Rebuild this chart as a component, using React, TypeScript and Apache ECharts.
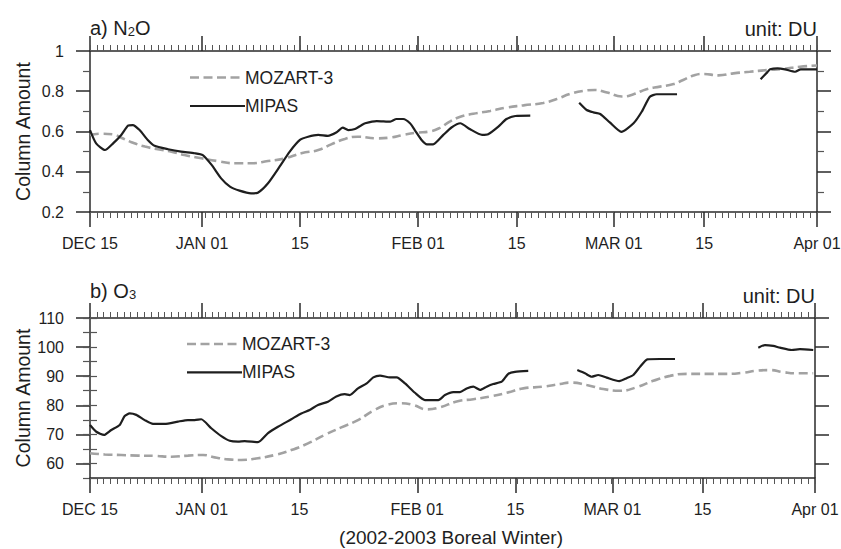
import React, { useEffect, useRef } from 'react';
import * as echarts from 'echarts';

// x axis: days since DEC 15 (positions of the labelled ticks)
const MAJOR_DAYS = [0, 16.5, 30.9, 48.3, 62.8, 77.1, 90.4, 107];
const MAJOR_LABELS = ['DEC 15', 'JAN 01', '15', 'FEB 01', '15', 'MAR 01', '15', 'Apr 01'];
const O3_MAJOR_TICKS = [60, 70, 80, 90, 100, 110];

// a) N2O
const N2O_MOZART: number[][] = [
  [0, 0.583], [1.7, 0.589], [3.4, 0.586], [4.6, 0.569], [6.1, 0.547], [8.1, 0.525], [10.0, 0.512],
  [12.0, 0.5], [13.9, 0.483], [16.4, 0.467], [18.8, 0.453], [21.3, 0.442], [23.7, 0.442], [26.2, 0.453],
  [28.7, 0.467], [31.1, 0.492], [33.6, 0.508], [35.5, 0.536], [37.5, 0.563], [39.4, 0.574], [42.2, 0.566],
  [44.2, 0.57], [46.1, 0.583], [48.1, 0.594], [50.0, 0.6], [51.5, 0.618], [53.0, 0.65], [54.5, 0.673],
  [56.4, 0.688], [58.9, 0.702], [61.3, 0.719], [63.8, 0.73], [66.7, 0.742], [68.7, 0.762], [70.7, 0.787],
  [72.6, 0.802], [74.3, 0.806], [76.1, 0.794], [78.3, 0.774], [80.0, 0.785], [81.9, 0.81], [83.9, 0.823],
  [85.9, 0.836], [87.3, 0.856], [88.8, 0.878], [90.3, 0.886], [92.5, 0.879], [94.7, 0.889], [97.1, 0.897],
  [99.6, 0.905], [102.0, 0.911], [104.5, 0.922], [107, 0.928],
];
const N2O_MIPAS_1: number[][] = [
  [0, 0.607], [0.9, 0.541], [2.2, 0.508], [3.4, 0.541], [4.6, 0.583], [5.6, 0.629], [6.3, 0.632],
  [7.3, 0.607], [8.5, 0.558], [9.5, 0.529], [11.5, 0.512], [13.4, 0.5], [15.4, 0.492], [16.6, 0.483],
  [17.9, 0.434], [19.3, 0.367], [20.6, 0.326], [22.0, 0.306], [23.7, 0.293], [24.7, 0.296], [26.2, 0.343],
  [27.9, 0.425], [29.4, 0.5], [30.9, 0.558], [32.1, 0.574], [33.6, 0.583], [35.0, 0.578], [36.3, 0.596],
  [37.2, 0.619], [38.0, 0.607], [39.0, 0.612], [39.9, 0.63], [40.5, 0.641], [42.2, 0.652], [44.2, 0.649],
  [45.1, 0.662], [46.1, 0.662], [47.1, 0.641], [47.8, 0.607], [48.8, 0.558], [49.6, 0.536], [50.5, 0.536],
  [52.0, 0.583], [53.2, 0.62], [54.5, 0.641], [55.9, 0.612], [57.7, 0.583], [58.6, 0.586], [60.1, 0.624],
  [61.3, 0.662], [62.6, 0.677], [64.8, 0.679],
];
const N2O_MIPAS_2: number[][] = [
  [72.0, 0.743], [73.1, 0.707], [74.1, 0.695], [75.1, 0.687], [76.5, 0.645], [78.2, 0.598], [80.0, 0.641],
  [81.2, 0.698], [82.4, 0.773], [83.4, 0.785], [86.4, 0.785],
];
const N2O_MIPAS_3: number[][] = [
  [98.7, 0.86], [99.7, 0.895], [100.1, 0.909], [101.2, 0.914], [102.3, 0.909], [103.8, 0.897],
  [104.6, 0.909], [107, 0.909],
];

// b) O3
const O3_MOZART: number[][] = [
  [0, 63.5], [2.17, 63.1], [4.62, 62.9], [7.08, 62.7], [9.55, 62.6], [12.0, 62.3], [14.46, 62.7],
  [16.68, 62.9], [18.4, 62.1], [20.37, 61.4], [22.33, 61.2], [24.79, 61.8], [27.26, 62.9], [29.71, 64.6],
  [32.17, 66.9], [34.64, 69.8], [37.09, 72.4], [39.55, 74.9], [41.81, 78.1], [43.79, 80.1], [45.75, 80.7],
  [47.71, 80.1], [49.69, 78.6], [51.65, 79.3], [54.12, 81.3], [56.57, 82.1], [59.03, 83.0], [61.5, 84.3],
  [63.95, 85.8], [66.9, 86.4], [69.38, 87.3], [70.85, 87.8], [73.3, 87.0], [75.75, 85.6], [78.22, 85.0],
  [80.68, 86.2], [83.13, 88.4], [85.6, 90.1], [88.06, 90.8], [91.01, 90.8], [93.96, 90.8], [96.41, 91.2],
  [98.39, 91.9], [100.35, 92.1], [102.32, 91.4], [104.29, 91.0], [106.74, 91.0],
];
const O3_MIPAS_1: number[][] = [
  [0, 73.2], [0.93, 70.9], [2.07, 69.8], [3.14, 71.5], [4.38, 73.2], [5.12, 76.3], [5.86, 77.2],
  [6.83, 76.7], [8.07, 74.9], [9.3, 73.6], [11.02, 73.6], [12.99, 74.4], [14.46, 74.9], [15.45, 74.9],
  [16.42, 75.2], [17.9, 72.1], [19.38, 69.4], [20.62, 67.8], [21.84, 67.5], [22.83, 67.7], [24.79, 67.3],
  [26.27, 70.4], [27.74, 72.6], [29.71, 75.2], [31.18, 77.2], [32.42, 78.4], [33.65, 80.1], [35.12, 81.2],
  [36.35, 83.0], [37.59, 83.8], [38.33, 83.5], [39.55, 85.8], [40.84, 87.5], [41.81, 89.6], [42.8, 90.2],
  [44.27, 89.6], [45.26, 89.6], [46.49, 87.5], [47.96, 84.3], [49.44, 81.8], [51.4, 81.8], [52.39, 83.5],
  [53.62, 84.5], [54.6, 84.5], [55.59, 85.8], [56.57, 86.4], [57.56, 85.3], [58.54, 86.4], [59.52, 87.3],
  [60.76, 88.1], [61.73, 90.8], [62.72, 91.5], [64.68, 91.8],
];
const O3_MIPAS_2: number[][] = [
  [71.92, 92.1], [73.05, 91.0], [74.04, 89.8], [75.01, 90.4], [76.25, 89.5], [78.11, 88.3], [79.2, 89.3],
  [80.18, 90.4], [81.17, 93.2], [82.25, 95.8], [84.12, 95.9], [86.34, 95.9],
];
const O3_MIPAS_3: number[][] = [
  [98.63, 99.8], [99.62, 100.7], [100.84, 100.4], [101.83, 99.8], [103.56, 99.0], [104.78, 99.3],
  [106.74, 99.0],
];

const FONT = '"Liberation Sans", Arial, Helvetica, sans-serif';
const INK = '#1e1e1e';
const AXIS = '#2a2a2a';
const GREY = '#a2a2a2';

const xLabel = (v: number) => {
  const i = MAJOR_DAYS.findIndex((d) => Math.abs(d - v) < 0.01);
  return i >= 0 ? MAJOR_LABELS[i] : '';
};

function xAxes(grid: number) {
  const common = { gridIndex: grid, type: 'value', min: 0, max: 107, splitLine: { show: false } };
  const line = { show: true, onZero: false, lineStyle: { color: AXIS, width: 1.5 } };
  return [
    {
      ...common, position: 'bottom', axisLine: line,
      axisTick: { show: true, customValues: MAJOR_DAYS, length: 15, lineStyle: { color: AXIS, width: 1.5 } },
      axisLabel: { show: true, customValues: MAJOR_DAYS, formatter: xLabel, margin: 23, fontSize: 16, color: INK, fontFamily: FONT },
    },
    {
      ...common, position: 'bottom', interval: 1, axisLine: { show: false },
      axisTick: { show: true, length: 6, lineStyle: { color: '#555', width: 1 } }, axisLabel: { show: false },
    },
    {
      ...common, position: 'top', axisLine: line,
      axisTick: { show: true, customValues: MAJOR_DAYS, length: 15, lineStyle: { color: AXIS, width: 1.5 } },
      axisLabel: { show: false },
    },
    {
      ...common, position: 'top', interval: 1, axisLine: { show: false },
      axisTick: { show: true, length: 6, lineStyle: { color: '#555', width: 1 } }, axisLabel: { show: false },
    },
  ];
}

const yLabelStyle = { margin: 26, fontSize: 16, color: INK, fontFamily: FONT };

function series(data: number[][], xi: number, yi: number, model: boolean) {
  return {
    type: 'line', xAxisIndex: xi, yAxisIndex: yi, data, symbol: 'none', silent: true,
    smooth: model ? 0.5 : 0.2, z: model ? 2 : 3,
    lineStyle: model ? { color: GREY, width: 2.6, type: [9, 4.5] } : { color: INK, width: 2.2 },
  };
}

function legend(x: number, y1: number, y2: number) {
  return [
    { type: 'line', shape: { x1: x, y1, x2: x + 53, y2: y1 }, style: { stroke: GREY, lineWidth: 2.6, lineDash: [9, 4.5] } },
    { type: 'text', x: x + 55, y: y1, style: { text: 'MOZART-3', fontSize: 17.5, fontFamily: FONT, fill: INK, verticalAlign: 'middle' } },
    { type: 'line', shape: { x1: x, y1: y2, x2: x + 55, y2 }, style: { stroke: INK, lineWidth: 2.2 } },
    { type: 'text', x: x + 55, y: y2, style: { text: 'MIPAS', fontSize: 17.5, fontFamily: FONT, fill: INK, verticalAlign: 'middle' } },
  ];
}

const subRich = {
  m: { fontSize: 20, fontFamily: FONT, fill: INK },
  s: { fontSize: 13, fontFamily: FONT, fill: INK, lineHeight: 10, verticalAlign: 'bottom' },
};

export default function App() {
  const ref = useRef<HTMLDivElement>(null);
  useEffect(() => {
    if (!ref.current) return;
    const chart = echarts.init(ref.current, undefined, { renderer: 'svg' });
    const tickLine = { color: AXIS, width: 1.5 };
    const axisLine = { show: true, onZero: false, lineStyle: { color: AXIS, width: 1.5 } };
    const option: any = {
      animation: false,
      backgroundColor: '#ffffff',
      grid: [
        { left: 90, top: 51, width: 727, height: 161, outerBoundsMode: 'none' },
        { left: 90, top: 318, width: 725, height: 160, outerBoundsMode: 'none' },
      ],
      xAxis: [...xAxes(0), ...xAxes(1)],
      yAxis: [
        {
          gridIndex: 0, type: 'value', min: 0.2, max: 1, interval: 0.2, position: 'left', axisLine,
          axisTick: { show: true, length: 14, lineStyle: tickLine },
          minorTick: { show: true, splitNumber: 2, length: 7, lineStyle: { color: '#555', width: 1.2 } },
          axisLabel: { ...yLabelStyle, formatter: (v: number) => String(Math.round(v * 10) / 10) },
          splitLine: { show: false }, minorSplitLine: { show: false },
        },
        {
          gridIndex: 0, type: 'value', min: 0.2, max: 1, interval: 0.2, position: 'right', axisLine,
          axisTick: { show: true, length: 14, lineStyle: tickLine },
          minorTick: { show: true, splitNumber: 2, length: 7, lineStyle: { color: '#555', width: 1.2 } },
          axisLabel: { show: false }, splitLine: { show: false }, minorSplitLine: { show: false },
        },
        {
          gridIndex: 1, type: 'value', min: 55, max: 110, position: 'left', axisLine,
          axisTick: { show: true, customValues: O3_MAJOR_TICKS, length: 14, lineStyle: tickLine },
          axisLabel: { ...yLabelStyle, customValues: O3_MAJOR_TICKS },
          splitLine: { show: false },
        },
        {
          gridIndex: 1, type: 'value', min: 55, max: 110, interval: 5, position: 'left', axisLine: { show: false },
          axisTick: { show: true, length: 7, lineStyle: { color: '#555', width: 1.2 } },
          axisLabel: { show: false }, splitLine: { show: false },
        },
        {
          gridIndex: 1, type: 'value', min: 55, max: 110, position: 'right', axisLine,
          axisTick: { show: true, customValues: O3_MAJOR_TICKS, length: 14, lineStyle: tickLine },
          axisLabel: { show: false }, splitLine: { show: false },
        },
        {
          gridIndex: 1, type: 'value', min: 55, max: 110, interval: 5, position: 'right', axisLine: { show: false },
          axisTick: { show: true, length: 7, lineStyle: { color: '#555', width: 1.2 } },
          axisLabel: { show: false }, splitLine: { show: false },
        },
      ],
      series: [
        series(N2O_MOZART, 0, 0, true),
        series(N2O_MIPAS_1, 0, 0, false),
        series(N2O_MIPAS_2, 0, 0, false),
        series(N2O_MIPAS_3, 0, 0, false),
        series(O3_MOZART, 4, 2, true),
        series(O3_MIPAS_1, 4, 2, false),
        series(O3_MIPAS_2, 4, 2, false),
        series(O3_MIPAS_3, 4, 2, false),
      ],
      graphic: [
        {
          type: 'text', x: 90, y: 28,
          style: { text: '{m|a) N}{s|2}{m|O}', fontSize: 20, fontFamily: FONT, fill: INK, verticalAlign: 'middle', rich: subRich },
        },
        {
          type: 'text', x: 90, y: 291,
          style: { text: '{m|b) O}{s|3}', fontSize: 20, fontFamily: FONT, fill: INK, verticalAlign: 'middle', rich: subRich },
        },
        { type: 'text', x: 817, y: 29, style: { text: 'unit: DU', fontSize: 20, fontFamily: FONT, fill: INK, align: 'right', verticalAlign: 'middle' } },
        { type: 'text', x: 815, y: 295.5, style: { text: 'unit: DU', fontSize: 20, fontFamily: FONT, fill: INK, align: 'right', verticalAlign: 'middle' } },
        { type: 'text', x: 23, y: 131.5, rotation: Math.PI / 2, style: { text: 'Column Amount', fontSize: 19.5, fontFamily: FONT, fill: INK, align: 'center', verticalAlign: 'middle' } },
        { type: 'text', x: 23, y: 398, rotation: Math.PI / 2, style: { text: 'Column Amount', fontSize: 19.5, fontFamily: FONT, fill: INK, align: 'center', verticalAlign: 'middle' } },
        { type: 'text', x: 451, y: 537, style: { text: '(2002-2003 Boreal Winter)', fontSize: 19, fontFamily: FONT, fill: INK, align: 'center', verticalAlign: 'middle' } },
        ...legend(190, 77.5, 106),
        ...legend(187, 344, 372.3),
      ],
    };
    chart.setOption(option);
    return () => chart.dispose();
  }, []);
  return (
    <div
      ref={ref}
      style={{ position: 'fixed', left: 0, top: 0, width: 841, height: 549, background: '#fff' }}
    />
  );
}
